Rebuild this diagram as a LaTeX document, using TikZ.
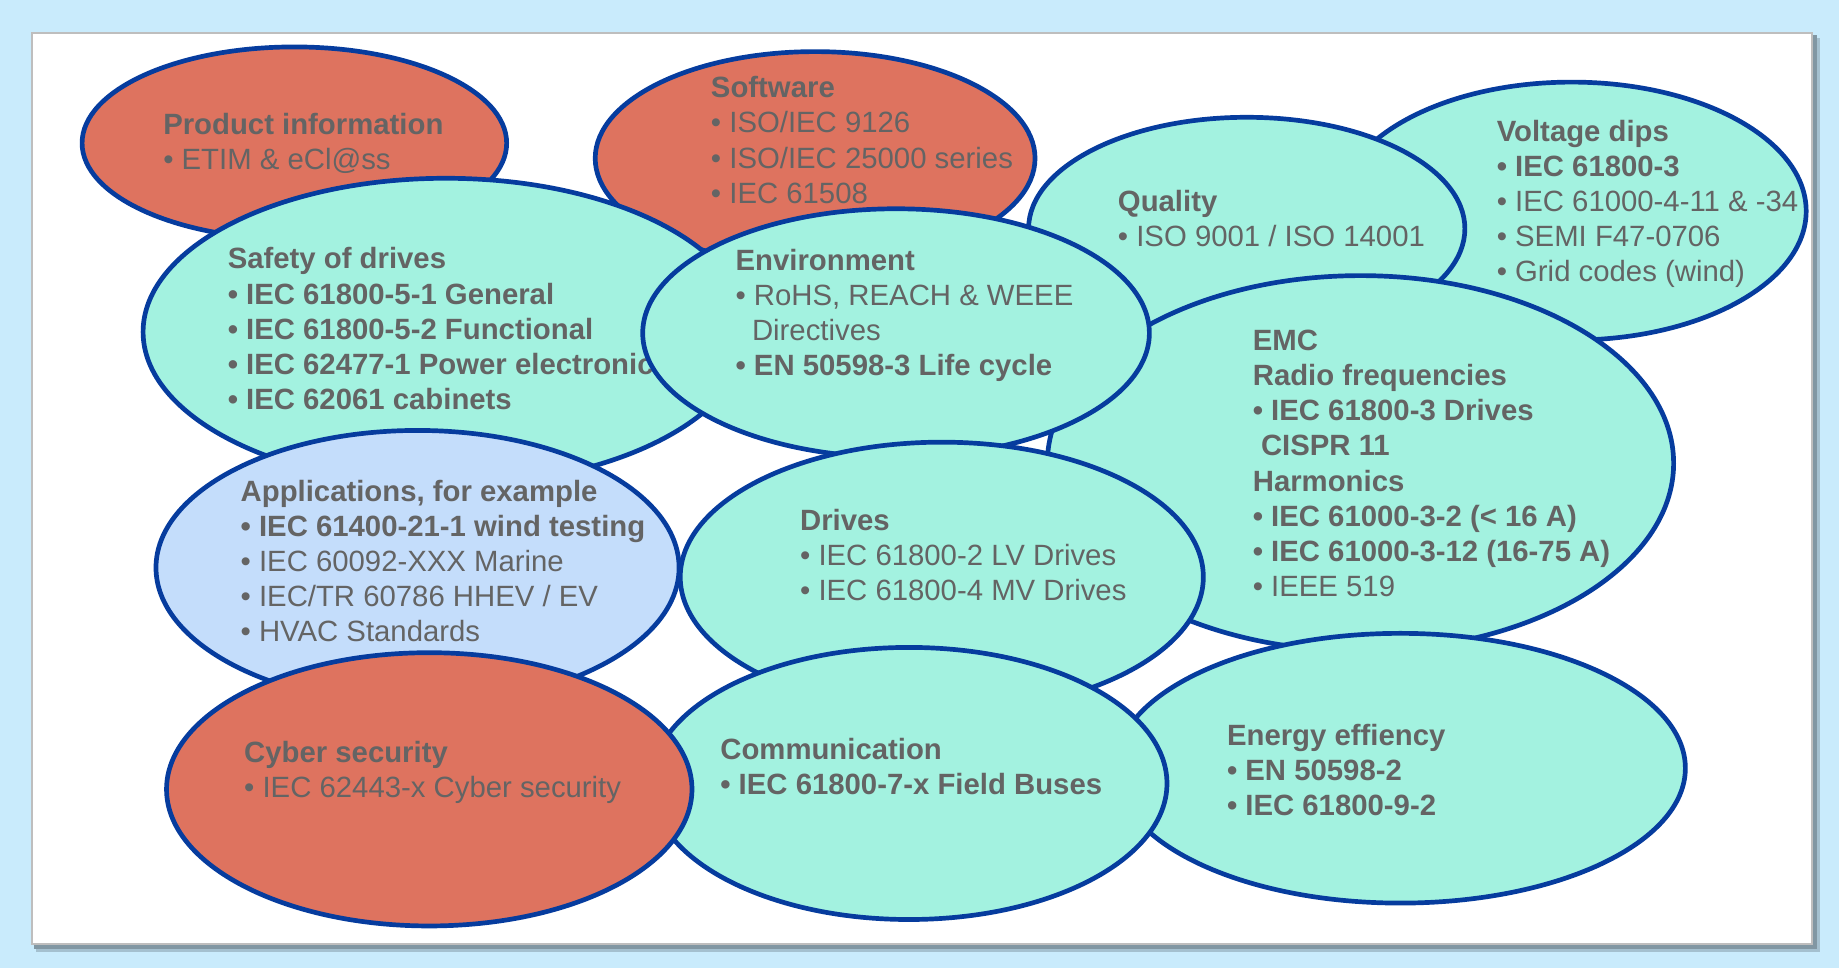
\documentclass[tikz,border=0pt]{standalone}
\usepackage{fontspec}
\setmainfont{Liberation Sans}
\usepackage{tikz}
\usetikzlibrary{shapes.geometric}
\definecolor{skyback}{HTML}{C9EBFC}
\definecolor{hotred}{HTML}{DE735F}
\definecolor{mint}{HTML}{A3F2E0}
\definecolor{paleblue}{HTML}{C4DDFB}
\definecolor{rimblue}{HTML}{063C9E}
\definecolor{inkgray}{HTML}{646464}
\definecolor{framegray}{HTML}{BEBEBE}
\definecolor{shadegray}{HTML}{8197A3}

\begin{document}
\begin{tikzpicture}[x=1pt, y=-1pt,
  bubble/.style={ellipse, draw=rimblue, line width=4pt, inner sep=0pt},
  hot/.style={bubble, fill=hotred},
  cool/.style={bubble, fill=mint},
  pale/.style={bubble, fill=paleblue},
  txt/.style={anchor=north west, inner sep=0pt, align=left, text=inkgray, font=\fontsize{25}{30}\selectfont}
  ]
  \useasboundingbox (0,0) rectangle (1568,825);

  % Background
  \fill[skyback] (0,0) rectangle (1568,825);
  \fill[shadegray, opacity=0.5] (31,32) rectangle (1552,812);
  \fill[shadegray] (29,30) rectangle (1549,809);
  \filldraw[fill=white, draw=framegray, line width=1.5pt] (27,28) rectangle (1545,805);

  % Bubbles
  \node[hot, minimum width=362pt, minimum height=164pt] (prod) at (251,122) {};
  \node[txt] (prodtxt) at (139,96) {\textbf{Product information}\\• ETIM \& eCl@ss};

  \node[hot, minimum width=375pt, minimum height=182pt] (soft) at (695,135) {};
  \node[txt] (softtxt) at (606,65) {\textbf{Software}\\• ISO/IEC 9126\\• ISO/IEC 25000 series\\• IEC 61508};

  \node[cool, minimum width=400pt, minimum height=220pt] (volt) at (1340,180) {};
  \node[txt] (volttxt) at (1276,102) {\textbf{Voltage dips}\\\textbf{• IEC 61800-3}\\• IEC 61000-4-11 \& -34\\• SEMI F47-0706\\• Grid codes (wind)};

  \node[cool, minimum width=372pt, minimum height=190pt] (qual) at (1063,195) {};
  \node[txt] (qualtxt) at (953,162) {\textbf{Quality}\\• ISO 9001 / ISO 14001};

  \node[cool, minimum width=534pt, minimum height=320pt] (emc) at (1160,395) {};
  \node[txt] (emctxt) at (1068,281) {\textbf{EMC}\\\textbf{Radio frequencies}\\\textbf{• IEC 61800-3 Drives}\\\textbf{\hspace*{7pt}CISPR 11}\\\textbf{Harmonics}\\\textbf{• IEC 61000-3-2 (< 16 A)}\\\textbf{• IEC 61000-3-12 (16-75 A)}\\• IEEE 519};

  \node[cool, minimum width=516pt, minimum height=262pt] (safe) at (380,283) {};
  \node[txt] (safetxt) at (194,211) {\textbf{Safety of drives}\\\textbf{• IEC 61800-5-1 General}\\\textbf{• IEC 61800-5-2 Functional}\\\textbf{• IEC 62477-1 Power electronic}\\\textbf{• IEC 62061 cabinets}};

  \node[cool, minimum width=432pt, minimum height=212pt] (env) at (764,284) {};
  \node[txt] (envtxt) at (627,212) {\textbf{Environment}\\• RoHS, REACH \& WEEE\\\hspace*{14pt}Directives\\\textbf{• EN 50598-3 Life cycle}};

  \node[pale, minimum width=446pt, minimum height=234pt] (appl) at (356,484) {};
  \node[txt] (appltxt) at (205,409) {\textbf{Applications, for example}\\\textbf{• IEC 61400-21-1 wind testing}\\• IEC 60092-XXX Marine\\• IEC/TR 60786 HHEV / EV\\• HVAC Standards};

  \node[cool, minimum width=446pt, minimum height=230pt] (drv) at (803,492) {};
  \node[txt] (drvtxt) at (682,434) {\textbf{Drives}\\• IEC 61800-2 LV Drives\\• IEC 61800-4 MV Drives};

  \node[cool, minimum width=486pt, minimum height=230pt] (nrg) at (1194,655) {};
  \node[txt] (nrgtxt) at (1046,617) {\textbf{Energy effiency}\\\textbf{• EN 50598-2}\\\textbf{• IEC 61800-9-2}};

  \node[cool, minimum width=440pt, minimum height=232pt] (comm) at (775,668) {};
  \node[txt] (commtxt) at (614,629) {\textbf{Communication}\\\textbf{• IEC 61800-7-x Field Buses}};

  \node[hot, minimum width=448pt, minimum height=233pt] (cyb) at (366,673) {};
  \node[txt] (cybtxt) at (208,632) {\textbf{Cyber security}\\• IEC 62443-x Cyber security};

\end{tikzpicture}
\end{document}
